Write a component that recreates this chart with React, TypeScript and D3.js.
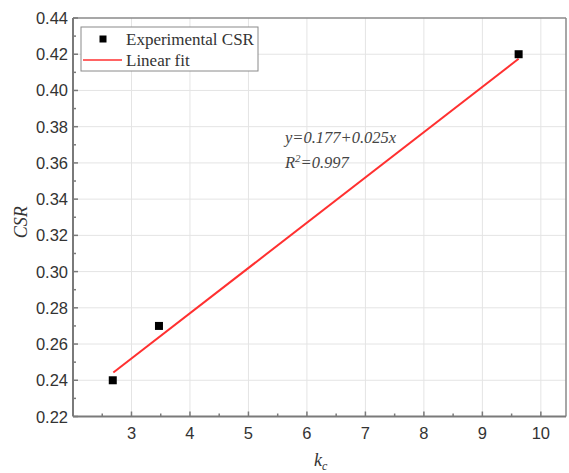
import React from "react";
import * as d3 from "d3";

const kc = [2.68, 3.47, 9.62];
const csr = [0.24, 0.27, 0.42];
const fitIntercept = 0.177;
const fitSlope = 0.025;
const fitRange = [2.69, 9.62];
const xTicks = [3, 4, 5, 6, 7, 8, 9, 10];
const yTicks = [0.22, 0.24, 0.26, 0.28, 0.3, 0.32, 0.34, 0.36, 0.38, 0.4, 0.42, 0.44];

export default function App() {
  const W = 569, H = 473;
  const L = 73, R = 566, T = 18, B = 416.5;
  const x = d3.scaleLinear().domain([2, 10.43]).range([L, R]);
  const y = d3.scaleLinear().domain([0.22, 0.44]).range([B, T]);
  const xMinor = d3.range(2.5, 10.43, 0.5).filter((v) => Math.abs(v - Math.round(v)) > 0.01);
  const yMinor = d3.range(0.23, 0.44, 0.02);
  const line = d3.line<number>().x((d) => x(d)).y((d) => y(fitIntercept + fitSlope * d));
  const axisColor = "#7a7a7a";
  const textColor = "#333";
  return (
    <svg width={W} height={H} style={{ position: "absolute", left: 0, top: 0, background: "#fff" }}>
      <rect x={0} y={0} width={W} height={H} fill="#fff" />
      {/* grid */}
      {xTicks.map((t) => (
        <line key={"gx" + t} x1={x(t)} x2={x(t)} y1={T} y2={B} stroke="#e4e4e4" strokeWidth={1} />
      ))}
      {yTicks.slice(1, -1).map((t) => (
        <line key={"gy" + t} x1={L} x2={R} y1={y(t)} y2={y(t)} stroke="#e4e4e4" strokeWidth={1} />
      ))}
      {/* frame */}
      <line x1={L} x2={R} y1={T} y2={T} stroke="#8a8a8a" strokeWidth={1.5} />
      <line x1={R} x2={R} y1={T} y2={B} stroke="#8a8a8a" strokeWidth={1.5} />
      {/* axes */}
      <line x1={L} x2={R} y1={B} y2={B} stroke={axisColor} strokeWidth={2} />
      <line x1={L} x2={L} y1={T} y2={B} stroke={axisColor} strokeWidth={2} />
      {xTicks.map((t) => (
        <g key={"xt" + t}>
          <line x1={x(t)} x2={x(t)} y1={B} y2={B - 5} stroke={axisColor} strokeWidth={1.5} />
          <text x={x(t)} y={439} textAnchor="middle" fontFamily="Liberation Sans, Arial, sans-serif" fontSize={16.5} fill={textColor}>
            {t}
          </text>
        </g>
      ))}
      {xMinor.map((t) => (
        <line key={"xm" + t} x1={x(t)} x2={x(t)} y1={B} y2={B - 3} stroke={axisColor} strokeWidth={1.5} />
      ))}
      {yTicks.map((t) => (
        <g key={"yt" + t}>
          <line x1={L} x2={L + 5} y1={y(t)} y2={y(t)} stroke={axisColor} strokeWidth={1.5} />
          <text x={68} y={y(t) + 6} textAnchor="end" fontFamily="Liberation Sans, Arial, sans-serif" fontSize={16.5} fill={textColor}>
            {d3.format(".2f")(t)}
          </text>
        </g>
      ))}
      {yMinor.map((t) => (
        <line key={"ym" + t} x1={L} x2={L + 3} y1={y(t)} y2={y(t)} stroke={axisColor} strokeWidth={1.5} />
      ))}
      {/* fit line */}
      <path d={line(fitRange) || ""} fill="none" stroke="#ff3030" strokeWidth={2} />
      {/* points */}
      {kc.map((v, i) => (
        <rect key={"p" + i} x={x(v) - 4} y={y(csr[i]) - 4} width={8} height={8} fill="#000" />
      ))}
      {/* annotation */}
      <text x={285} y={143} fontFamily="Liberation Serif, Times New Roman, serif" fontStyle="italic" fontSize={16.5} fill="#444">
        y=0.177+0.025x
      </text>
      <text x={285} y={168} fontFamily="Liberation Serif, Times New Roman, serif" fontStyle="italic" fontSize={16.5} fill="#444">
        R<tspan dy={-6} fontSize={11}>2</tspan>
        <tspan dy={6}>=0.997</tspan>
      </text>
      {/* legend */}
      <rect x={81} y={27} width={177} height={44} fill="#fff" stroke="#8a8a8a" strokeWidth={1} />
      <rect x={99.5} y={35.5} width={7} height={7} fill="#000" />
      <text x={126} y={45} fontFamily="Liberation Serif, Times New Roman, serif" fontSize={17} fill={textColor}>
        Experimental CSR
      </text>
      <line x1={83} x2={122} y1={60} y2={60} stroke="#ff3030" strokeWidth={1.5} />
      <text x={126} y={66} fontFamily="Liberation Serif, Times New Roman, serif" fontSize={17} fill={textColor}>
        Linear fit
      </text>
      {/* axis titles */}
      <text transform={`translate(27,${(T + B) / 2 + 5}) rotate(-90)`} textAnchor="middle" fontFamily="Liberation Serif, Times New Roman, serif" fontStyle="italic" fontSize={18} fill={textColor}>
        CSR
      </text>
      <text x={314} y={466} fontFamily="Liberation Serif, Times New Roman, serif" fontStyle="italic" fontSize={18} fill={textColor}>
        k<tspan dy={4} fontSize={12}>c</tspan>
      </text>
    </svg>
  );
}
